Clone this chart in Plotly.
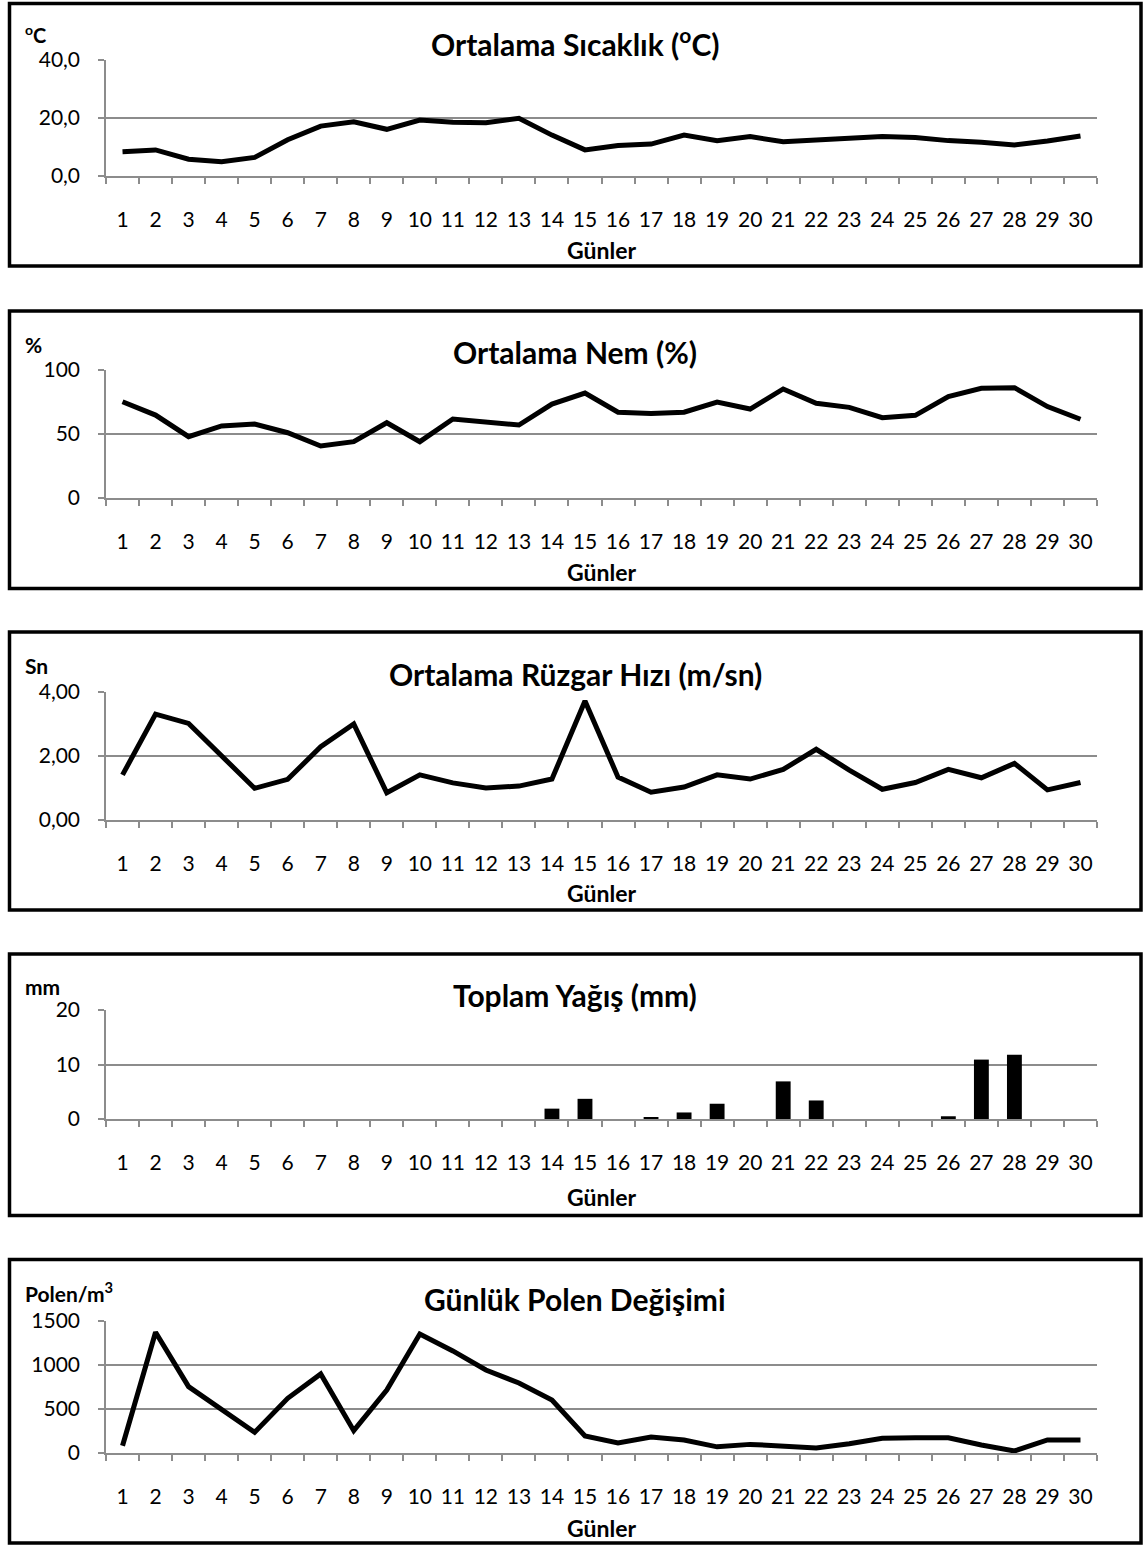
import plotly.graph_objects as go

W, H = 1148, 1545
days = [str(i) for i in range(1, 31)]

temperature = [8.4, 9.0, 5.8, 4.9, 6.4, 12.5, 17.2, 18.7, 16.1, 19.3,
               18.5, 18.4, 19.9, 14.1, 9.0, 10.5, 11.0, 14.1, 12.2, 13.6,
               11.8, 12.4, 12.6, 13.6, 13.3, 12.2, 11.6, 10.7, 12.1, 13.8]
humidity = [75.2, 64.8, 47.9, 56.3, 57.8, 51.0, 40.6, 44.0, 58.8, 44.0,
            61.7, 59.4, 57.0, 73.4, 82.0, 67.0, 66.0, 67.0, 75.0, 69.5,
            85.2, 74.0, 70.8, 62.7, 64.6, 79.2, 85.7, 86.2, 71.4, 61.5]
wind = [1.41, 3.31, 3.02, 2.03, 0.99, 1.27, 2.29, 3.00, 0.85, 1.41,
        1.16, 1.00, 1.06, 1.28, 3.72, 1.34, 0.87, 1.03, 1.41, 1.28,
        1.58, 2.21, 1.56, 0.96, 1.17, 1.58, 1.32, 1.77, 0.94, 1.17]
precip = [0, 0, 0, 0, 0, 0, 0, 0, 0, 0,
          0, 0, 0, 1.9, 3.7, 0, 0.2, 1.2, 2.8, 0,
          6.9, 3.4, 0, 0, 0, 0.5, 10.9, 11.8, 0, 0]
pollen = [83, 1372, 754, 500, 235, 621, 898, 254, 716, 1352,
          1160, 943, 795, 602, 193, 114, 182, 148, 70, 98,
          83, 58, 105, 167, 174, 174, 91, 23, 148, 148]

titles = ["Ortalama Sıcaklık (<sup>o</sup>C)", "Ortalama Nem (%)",
          "Ortalama Rüzgar Hızı (m/sn)", "Toplam Yağış (mm)", "Günlük Polen Değişimi"]
units = ["<sup>o</sup>C", "%", "Sn", "mm", "Polen/m<sup>3</sup>"]
y_ranges = [[0, 40], [0, 100], [0, 4], [0, 20], [0, 1500]]
y_dticks = [20, 50, 2, 10, 500]
y_formats = [".1f", "d", ".2f", "d", "d"]
xlabel = "Günler"

# layout geometry (pixels from top)
plot_px = [(60, 176), (370, 498), (692, 820), (1010, 1119), (1321, 1453)]
box_px = [(3.5, 266), (311, 588.5), (632, 910), (954, 1215.5), (1259.5, 1543)]
title_y = [42, 352, 674, 995, 1299]
unit_y = [34, 344, 665, 986, 1292]
unit_size = [20, 21, 21, 21, 21]
xlab_y = [250, 572, 893, 1197, 1528]
x_left, x_right = 106, 1097
box_l, box_r = 9.5, 1141

FONT = "Lato"
GRID = "#8c8c8c"

def py(px):
    return 1 - px / H

fig = go.Figure()
series = [temperature, humidity, wind, precip, pollen]
for i, vals in enumerate(series):
    xa = "x" if i == 0 else f"x{i+1}"
    ya = "y" if i == 0 else f"y{i+1}"
    if i == 3:
        fig.add_trace(go.Bar(x=days, y=vals, xaxis=xa, yaxis=ya, width=0.45,
                             marker=dict(color="black", line=dict(width=0)),
                             showlegend=False))
    else:
        fig.add_trace(go.Scatter(x=days, y=vals, xaxis=xa, yaxis=ya, mode="lines",
                                 line=dict(color="black", width=5),
                                 showlegend=False))

layout = dict(
    width=W, height=H, autosize=False,
    margin=dict(l=0, r=0, t=0, b=0, pad=0, autoexpand=False),
    paper_bgcolor="white", plot_bgcolor="white",
    separators=",.",
    font=dict(family=FONT, color="black", size=21),
    showlegend=False,
)
shapes = []
annotations = []
for i in range(5):
    sx = "" if i == 0 else str(i + 1)
    top, bot = plot_px[i]
    layout["xaxis" + sx] = dict(
        type="category", domain=[x_left / W, x_right / W], anchor="y" + sx,
        range=[-0.5, 29.5], tickson="boundaries", ticks="outside", ticklen=6,
        tickcolor=GRID, tickwidth=1.5, showline=True, linecolor=GRID, linewidth=1.5,
        showgrid=False, tickfont=dict(family=FONT, size=21, color="black"),
        tickangle=0, ticklabelstandoff=24, fixedrange=True, automargin=False,
    )
    layout["yaxis" + sx] = dict(
        domain=[py(bot), py(top)], anchor="x" + sx, range=y_ranges[i],
        dtick=y_dticks[i], tick0=0, tickformat=y_formats[i],
        ticks="outside", ticklen=6, tickcolor=GRID, tickwidth=1.5,
        showline=True, linecolor=GRID, linewidth=1.5,
        showgrid=True, gridcolor=GRID, gridwidth=1.5, zeroline=False,
        tickfont=dict(family=FONT, size=21, color="black"),
        ticklabelstandoff=14, fixedrange=True, automargin=False,
    )
    bt, bb = box_px[i]
    shapes.append(dict(type="rect", xref="paper", yref="paper",
                       x0=box_l / W, x1=box_r / W, y0=py(bb), y1=py(bt),
                       line=dict(color="black", width=3.5), fillcolor="rgba(0,0,0,0)"))
    annotations.append(dict(text="<b>" + titles[i] + "</b>", xref="paper", yref="paper",
                            x=(box_l + box_r) / 2 / W, y=py(title_y[i]),
                            xanchor="center", yanchor="middle", showarrow=False,
                            font=dict(family=FONT, size=30, color="black")))
    annotations.append(dict(text="<b>" + units[i] + "</b>", xref="paper", yref="paper",
                            x=24 / W, y=py(unit_y[i]), xanchor="left", yanchor="middle",
                            showarrow=False, borderpad=0,
                            font=dict(family=FONT, size=unit_size[i], color="black")))
    annotations.append(dict(text="<b>" + xlabel + "</b>", xref="paper", yref="paper",
                            x=(x_left + x_right) / 2 / W, y=py(xlab_y[i]),
                            xanchor="center", yanchor="middle", showarrow=False,
                            font=dict(family=FONT, size=23, color="black")))
layout["shapes"] = shapes
layout["annotations"] = annotations
fig.update_layout(**layout)
fig.write_html("out.html", config={"displayModeBar": False},
               post_script="document.body.style.margin='0';")
